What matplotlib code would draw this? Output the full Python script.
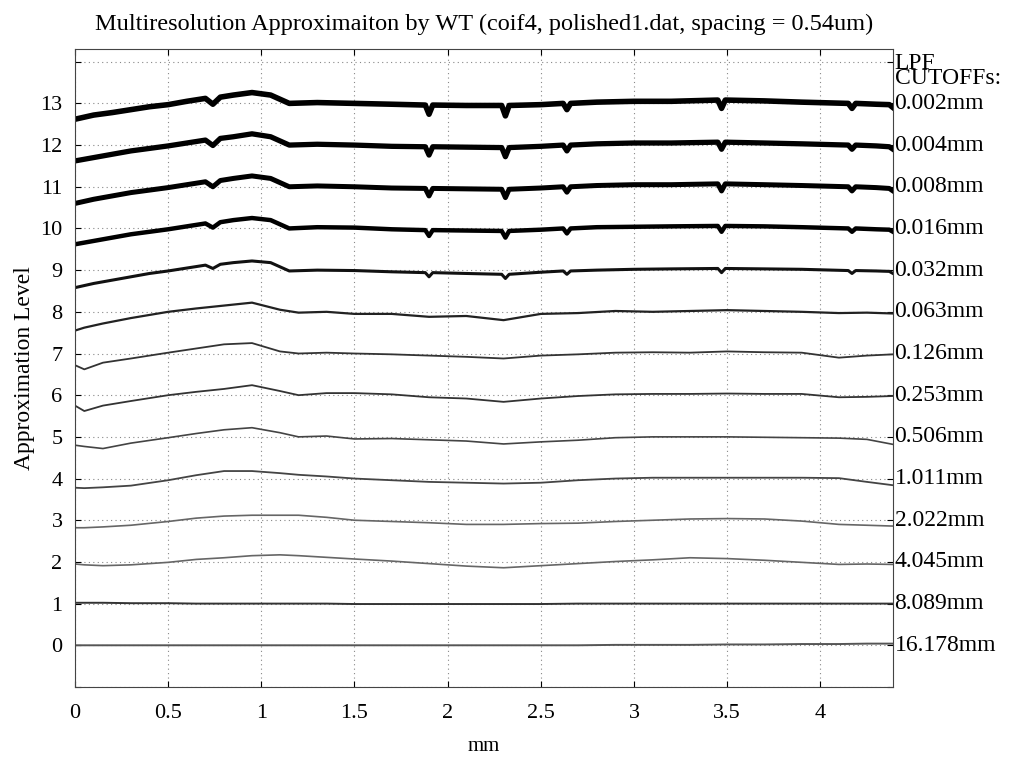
import matplotlib
matplotlib.use("Agg")
import matplotlib.pyplot as plt

# x positions (mm) for the noisy fine levels (dips included as extra points)
FINE_X = [0.0, 0.1, 0.2, 0.3, 0.4, 0.5, 0.6, 0.7, 0.74, 0.78, 0.85, 0.95, 1.05, 1.1,
          1.15, 1.3, 1.5, 1.7, 1.88, 1.9, 1.92, 2.1, 2.29, 2.31, 2.33, 2.5, 2.62,
          2.64, 2.66, 2.8, 3.0, 3.2, 3.45, 3.47, 3.49, 3.7, 3.9, 4.15, 4.17, 4.19,
          4.3, 4.37, 4.39]

LEVEL_13 = [12.62, 12.72, 12.78, 12.85, 12.92, 12.97, 13.05, 13.12, 12.98, 13.15, 13.2,
            13.26, 13.2, 13.1, 13.0, 13.02, 13.0, 12.98, 12.96, 12.74, 12.96, 12.95,
            12.95, 12.7, 12.95, 12.97, 13.0, 12.85, 13.0, 13.03, 13.05, 13.05, 13.08,
            12.88, 13.08, 13.06, 13.03, 13.0, 12.88, 13.0, 12.98, 12.97, 12.9]
LEVEL_12 = [11.62, 11.7, 11.78, 11.86, 11.92, 11.98, 12.05, 12.12, 11.99, 12.16, 12.2,
            12.27, 12.2, 12.1, 12.0, 12.02, 12.0, 11.97, 11.96, 11.76, 11.96, 11.95,
            11.94, 11.72, 11.94, 11.97, 12.0, 11.86, 12.0, 12.03, 12.05, 12.05, 12.07,
            11.9, 12.07, 12.05, 12.03, 12.0, 11.9, 12.0, 11.98, 11.96, 11.9]
LEVEL_11 = [10.6, 10.7, 10.78, 10.86, 10.92, 10.98, 11.05, 11.12, 11.0, 11.15, 11.2,
            11.26, 11.2, 11.1, 11.0, 11.02, 11.0, 10.97, 10.96, 10.78, 10.96, 10.95,
            10.94, 10.74, 10.94, 10.97, 11.0, 10.87, 11.0, 11.03, 11.05, 11.05, 11.07,
            10.9, 11.07, 11.05, 11.03, 11.0, 10.9, 11.0, 10.98, 10.96, 10.9]
LEVEL_10 = [9.62, 9.7, 9.78, 9.86, 9.92, 9.98, 10.05, 10.12, 10.02, 10.15, 10.2,
            10.25, 10.2, 10.1, 10.0, 10.03, 10.02, 9.98, 9.96, 9.82, 9.96, 9.95,
            9.94, 9.78, 9.94, 9.97, 10.0, 9.88, 10.0, 10.03, 10.04, 10.05, 10.06,
            9.92, 10.06, 10.05, 10.03, 10.0, 9.92, 10.0, 9.98, 9.97, 9.92]
LEVEL_9 = [8.58, 8.68, 8.76, 8.84, 8.92, 8.98, 9.05, 9.12, 9.04, 9.14, 9.18,
           9.22, 9.18, 9.08, 8.98, 9.0, 8.99, 8.96, 8.94, 8.84, 8.94, 8.92,
           8.9, 8.8, 8.9, 8.95, 8.98, 8.9, 8.98, 9.0, 9.02, 9.03, 9.04,
           8.94, 9.04, 9.03, 9.02, 8.99, 8.92, 8.99, 8.98, 8.97, 8.92]

# x positions (mm) for the smoother levels
COARSE_X = [0.0, 0.05, 0.15, 0.3, 0.5, 0.65, 0.8, 0.95, 1.1, 1.2, 1.35, 1.5, 1.7, 1.9,
            2.1, 2.3, 2.5, 2.7, 2.9, 3.1, 3.3, 3.5, 3.7, 3.9, 4.1, 4.25, 4.39]

LEVEL_8 = [7.55, 7.62, 7.72, 7.85, 8.0, 8.08, 8.15, 8.22, 8.05, 7.98, 8.0, 7.95, 7.95,
           7.88, 7.9, 7.8, 7.95, 7.97, 8.02, 8.0, 8.02, 8.04, 8.02, 8.0, 7.97, 7.98, 7.96]
LEVEL_7 = [6.72, 6.62, 6.78, 6.88, 7.02, 7.12, 7.22, 7.25, 7.05, 7.0, 7.02, 7.0, 6.98,
           6.95, 6.92, 6.88, 6.95, 6.98, 7.02, 7.03, 7.02, 7.05, 7.03, 7.02, 6.9, 6.95, 6.98]
LEVEL_6 = [5.75, 5.62, 5.75, 5.86, 6.0, 6.08, 6.15, 6.24, 6.1, 6.0, 6.05, 6.05, 6.02,
           5.95, 5.92, 5.84, 5.92, 5.98, 6.02, 6.03, 6.03, 6.04, 6.03, 6.03, 5.95, 5.96, 5.98]
LEVEL_5 = [4.8, 4.77, 4.72, 4.85, 4.98, 5.08, 5.17, 5.22, 5.1, 5.0, 5.02, 4.95, 4.96,
           4.93, 4.9, 4.83, 4.88, 4.92, 4.98, 5.0, 5.0, 5.0, 4.99, 4.98, 4.97, 4.94, 4.82]
LEVEL_4 = [3.78, 3.77, 3.79, 3.83, 3.96, 4.08, 4.18, 4.18, 4.13, 4.09, 4.05, 4.0, 3.96,
           3.92, 3.9, 3.88, 3.9, 3.96, 4.0, 4.02, 4.02, 4.02, 4.02, 4.02, 4.01, 3.92, 3.84]
LEVEL_3 = [2.82, 2.82, 2.84, 2.88, 2.97, 3.05, 3.1, 3.12, 3.12, 3.12, 3.07, 3.0, 2.97,
           2.94, 2.9, 2.9, 2.92, 2.93, 2.97, 3.0, 3.03, 3.04, 3.03, 2.98, 2.9, 2.88, 2.86]
LEVEL_2 = [1.95, 1.93, 1.91, 1.93, 1.99, 2.06, 2.1, 2.15, 2.17, 2.15, 2.11, 2.07, 2.02,
           1.96, 1.9, 1.86, 1.91, 1.96, 2.01, 2.05, 2.1, 2.08, 2.04, 1.99, 1.94, 1.95, 1.94]
LEVEL_1 = [1.02, 1.02, 1.02, 1.01, 1.01, 1.0, 1.0, 1.0, 1.0, 1.0, 1.0, 0.99, 0.99,
           0.99, 0.99, 0.99, 0.99, 1.0, 1.0, 1.0, 1.0, 1.0, 1.0, 1.0, 1.0, 1.0, 1.0]
LEVEL_0 = [0.0, 0.0, 0.0, 0.0, 0.0, 0.0, 0.0, 0.0, 0.0, 0.0, 0.0, 0.0, 0.0,
           0.0, 0.0, 0.0, 0.0, 0.0, 0.01, 0.01, 0.01, 0.02, 0.02, 0.03, 0.03, 0.04, 0.04]

CUTOFFS = ["16.178mm", "8.089mm", "4.045mm", "2.022mm", "1.011mm", "0.506mm",
           "0.253mm", "0.126mm", "0.063mm", "0.032mm", "0.016mm", "0.008mm",
           "0.004mm", "0.002mm"]

X_TICKS = [0, 0.5, 1, 1.5, 2, 2.5, 3, 3.5, 4]
X_TICK_LABELS = ["0", "0.5", "1", "1.5", "2", "2.5", "3", "3.5", "4"]

plt.rcParams["font.family"] = ["Liberation Serif", "DejaVu Serif"]

fig = plt.figure(figsize=(10.12, 7.57), dpi=100)
ax = fig.add_axes([0.0741, 0.0925, 0.8083, 0.8425])

fine = [(LEVEL_9, 2.2, "#111111"), (LEVEL_10, 3.2, "black"), (LEVEL_11, 3.6, "black"),
        (LEVEL_12, 3.8, "black"), (LEVEL_13, 4.0, "black")]
coarse = [(LEVEL_0, 1.4, "#555555"), (LEVEL_1, 1.4, "#333333"), (LEVEL_2, 1.2, "#666666"),
          (LEVEL_3, 1.2, "#666666"), (LEVEL_4, 1.3, "#444444"), (LEVEL_5, 1.2, "#444444"),
          (LEVEL_6, 1.3, "#333333"), (LEVEL_7, 1.3, "#333333"), (LEVEL_8, 1.6, "#222222")]

for ys, lw, c in coarse:
    ax.plot(COARSE_X, ys, color=c, linewidth=lw)
for ys, lw, c in fine:
    ax.plot(FINE_X, ys, color=c, linewidth=lw)

ax.set_xlim(0, 4.39)
ax.set_ylim(-1, 14.3)
ax.set_xticks(X_TICKS)
ax.set_xticklabels(X_TICK_LABELS)
ax.set_yticks(range(-1, 15))
ax.set_yticklabels([""] + [str(i) for i in range(14)] + [""])
ax.tick_params(direction="in", top=True, right=True, labelsize=16, length=4)
ax.tick_params(axis="x", pad=12)
ax.tick_params(axis="y", pad=9)
ax.grid(True, linestyle=(0, (1, 3)), color="#888888", linewidth=0.8)
ax.set_axisbelow(True)
for s in ax.spines.values():
    s.set_color("#444444")
    s.set_linewidth(0.8)

for lvl, txt in enumerate(CUTOFFS):
    ax.text(1.002, lvl, txt, transform=ax.get_yaxis_transform(), ha="left", va="center",
            fontsize=17)
ax.text(1.002, 13.35, "LPF\nCUTOFFs:", transform=ax.get_yaxis_transform(), ha="left",
        va="bottom", fontsize=17, linespacing=0.6)

ax.set_title("Multiresolution Approximaiton by WT (coif4, polished1.dat, spacing = 0.54um)",
             fontsize=17.5, pad=14)
ax.set_xlabel("mm", fontsize=15, labelpad=10)
ax.set_ylabel("Approximation Level", fontsize=17, labelpad=4)

fig.savefig("out.png", dpi=100)
